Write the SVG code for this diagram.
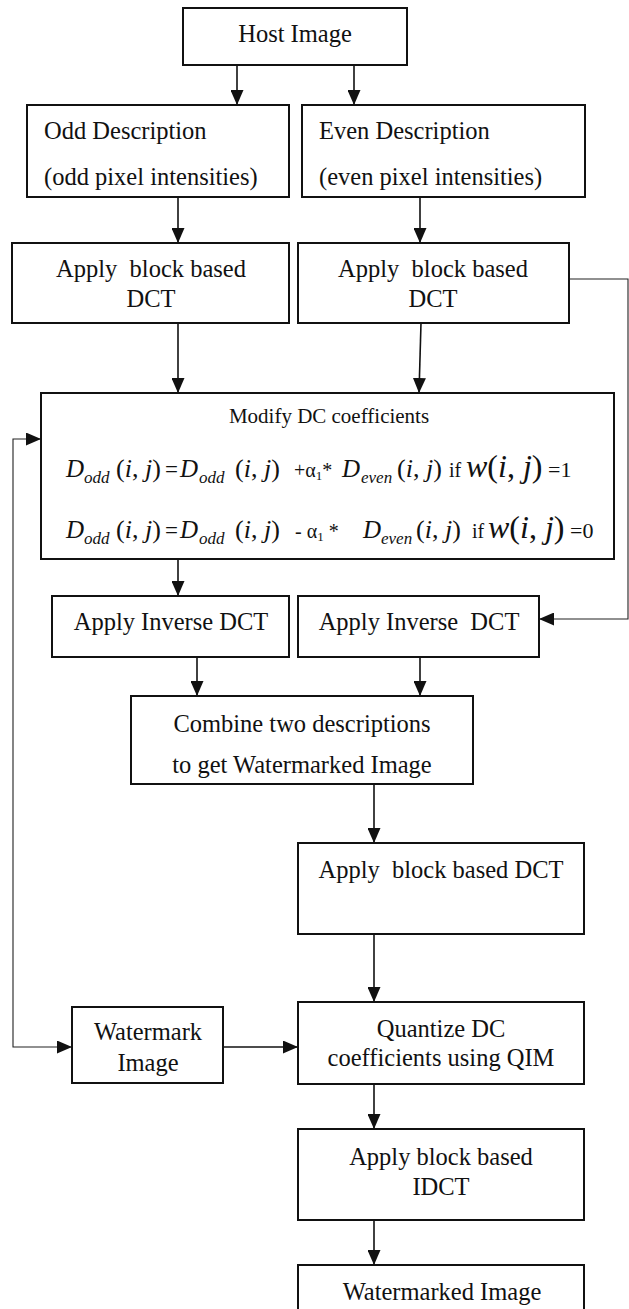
<svg xmlns="http://www.w3.org/2000/svg" width="629" height="1309" viewBox="0 0 629 1309">
<style>
text{font-family:"Liberation Serif","Times New Roman",serif}
.box{fill:#fff;stroke:#111;stroke-width:2}
.lbl{font-size:24.5px;fill:#111}
.c{text-anchor:middle}
.con{fill:none;stroke:#111;stroke-width:1.6}
.thin{fill:none;stroke:#222;stroke-width:1.1}
.m{fill:#111}
.it{font-style:italic}
.pre{white-space:pre}
</style>
<defs>
<marker id="ah" markerUnits="userSpaceOnUse" markerWidth="15" markerHeight="13" refX="15" refY="6.5" orient="auto-start-reverse">
<path d="M0,0 L15,6.5 L0,13 Z" fill="#111"/>
</marker>
</defs>
<g id="connectors">
<path class="con" d="M237,65 V105" marker-end="url(#ah)"/>
<path class="con" d="M354,65 V105" marker-end="url(#ah)"/>
<path class="con" d="M178,197 V243" marker-end="url(#ah)"/>
<path class="con" d="M420,197 V243" marker-end="url(#ah)"/>
<path class="con" d="M178,323 V393" marker-end="url(#ah)"/>
<path class="con" d="M421,323 L419,393" marker-end="url(#ah)"/>
<path class="con" d="M178,559 V596" marker-end="url(#ah)"/>
<path class="con" d="M197,657 V696" marker-end="url(#ah)"/>
<path class="con" d="M420,657 V696" marker-end="url(#ah)"/>
<path class="con" d="M374,784 V843" marker-end="url(#ah)"/>
<path class="con" d="M374,934 V1002" marker-end="url(#ah)"/>
<path class="con" d="M374,1084 V1129" marker-end="url(#ah)"/>
<path class="con" d="M374,1220 V1265" marker-end="url(#ah)"/>
<path class="con" d="M223,1047 H298" marker-end="url(#ah)"/>
<path class="thin" d="M569,279 H628 V619 H539" marker-end="url(#ah)"/>
<path class="thin" d="M41,439 H13 V1047 H72" marker-start="url(#ah)" marker-end="url(#ah)"/>
</g>
<g id="host"><rect class="box" x="183" y="8" width="224" height="57"/><text font-family="Liberation Serif" class="lbl c" x="295" y="42">Host Image</text></g>
<g id="odd"><rect class="box" x="27" y="105" width="262" height="92"/><text font-family="Liberation Serif" class="lbl" x="44" y="139">Odd Description</text><text font-family="Liberation Serif" class="lbl" x="44" y="185">(odd pixel intensities)</text></g>
<g id="even"><rect class="box" x="302" y="105" width="283" height="92"/><text font-family="Liberation Serif" class="lbl" x="319" y="139">Even Description</text><text font-family="Liberation Serif" class="lbl" x="319" y="185">(even pixel intensities)</text></g>
<g id="dctL"><rect class="box" x="12" y="243" width="277" height="80"/><text font-family="Liberation Serif" class="lbl c pre" x="151" y="277">Apply  block based</text><text font-family="Liberation Serif" class="lbl c" x="151" y="307">DCT</text></g>
<g id="dctR"><rect class="box" x="298" y="243" width="271" height="80"/><text font-family="Liberation Serif" class="lbl c pre" x="433" y="277">Apply  block based</text><text font-family="Liberation Serif" class="lbl c" x="433" y="307">DCT</text></g>
<g id="modify"><rect class="box" x="41" y="393" width="573" height="166"/>
<text font-family="Liberation Serif" class="m c" x="329" y="423" font-size="21">Modify DC coefficients</text>
<text font-family="Liberation Serif" class="m it" x="66" y="477" font-size="25">D</text>
<text font-family="Liberation Serif" class="m it" x="84" y="483" font-size="17">odd</text>
<text font-family="Liberation Serif" class="m" x="116" y="477" font-size="26">(<tspan class="it">i</tspan>, <tspan class="it">j</tspan>)</text>
<text font-family="Liberation Serif" class="m" x="165" y="477" font-size="23">=</text>
<text font-family="Liberation Serif" class="m it" x="180" y="477" font-size="25">D</text>
<text font-family="Liberation Serif" class="m it" x="199" y="483" font-size="17">odd</text>
<text font-family="Liberation Serif" class="m" x="235" y="477" font-size="26">(<tspan class="it">i</tspan>, <tspan class="it">j</tspan>)</text>
<text font-family="Liberation Serif" class="m" x="294" y="477" font-size="20">+α<tspan font-size="13" dy="3">1</tspan><tspan dy="-3">*</tspan></text>
<text font-family="Liberation Serif" class="m it" x="342" y="477" font-size="25">D</text>
<text font-family="Liberation Serif" class="m it" x="361" y="483" font-size="17">even</text>
<text font-family="Liberation Serif" class="m" x="397" y="477" font-size="26">(<tspan class="it">i</tspan>, <tspan class="it">j</tspan>)</text>
<text font-family="Liberation Serif" class="m" x="449" y="477" font-size="20">if</text>
<text font-family="Liberation Serif" class="m" x="466" y="477" font-size="32"><tspan class="it">w</tspan>(<tspan class="it">i</tspan>, <tspan class="it">j</tspan>)</text>
<text font-family="Liberation Serif" class="m" x="548" y="477" font-size="22">=1</text>
<text font-family="Liberation Serif" class="m it" x="66" y="538" font-size="25">D</text>
<text font-family="Liberation Serif" class="m it" x="84" y="544" font-size="17">odd</text>
<text font-family="Liberation Serif" class="m" x="116" y="538" font-size="26">(<tspan class="it">i</tspan>, <tspan class="it">j</tspan>)</text>
<text font-family="Liberation Serif" class="m" x="165" y="538" font-size="23">=</text>
<text font-family="Liberation Serif" class="m it" x="180" y="538" font-size="25">D</text>
<text font-family="Liberation Serif" class="m it" x="199" y="544" font-size="17">odd</text>
<text font-family="Liberation Serif" class="m" x="235" y="538" font-size="26">(<tspan class="it">i</tspan>, <tspan class="it">j</tspan>)</text>
<text font-family="Liberation Serif" class="m pre" x="295" y="538" font-size="20">- α<tspan font-size="13" dy="3">1</tspan><tspan dy="-3"> *</tspan></text>
<text font-family="Liberation Serif" class="m it" x="363" y="538" font-size="25">D</text>
<text font-family="Liberation Serif" class="m it" x="381" y="544" font-size="17">even</text>
<text font-family="Liberation Serif" class="m" x="416" y="538" font-size="26">(<tspan class="it">i</tspan>, <tspan class="it">j</tspan>)</text>
<text font-family="Liberation Serif" class="m" x="472" y="538" font-size="20">if</text>
<text font-family="Liberation Serif" class="m" x="488" y="538" font-size="32"><tspan class="it">w</tspan>(<tspan class="it">i</tspan>, <tspan class="it">j</tspan>)</text>
<text font-family="Liberation Serif" class="m" x="570" y="538" font-size="22">=0</text>
</g>
<g id="invL"><rect class="box" x="52" y="596" width="237" height="61"/><text font-family="Liberation Serif" class="lbl c" x="171" y="630">Apply Inverse DCT</text></g>
<g id="invR"><rect class="box" x="298" y="596" width="241" height="61"/><text font-family="Liberation Serif" class="lbl c pre" x="419" y="630">Apply Inverse  DCT</text></g>
<g id="combine"><rect class="box" x="131" y="696" width="342" height="88"/><text font-family="Liberation Serif" class="lbl c" x="302" y="732">Combine two descriptions</text><text font-family="Liberation Serif" class="lbl c" x="302" y="773">to get Watermarked Image</text></g>
<g id="dct2"><rect class="box" x="298" y="843" width="286" height="91"/><text font-family="Liberation Serif" class="lbl c pre" x="441" y="878">Apply  block based DCT</text></g>
<g id="quantize"><rect class="box" x="298" y="1002" width="286" height="82"/><text font-family="Liberation Serif" class="lbl c" x="441" y="1037">Quantize DC</text><text font-family="Liberation Serif" class="lbl c" x="441" y="1066">coefficients using QIM</text></g>
<g id="watermark"><rect class="box" x="72" y="1007" width="151" height="76"/><text font-family="Liberation Serif" class="lbl c" x="148" y="1040">Watermark</text><text font-family="Liberation Serif" class="lbl c" x="148" y="1071">Image</text></g>
<g id="idct"><rect class="box" x="298" y="1129" width="286" height="91"/><text font-family="Liberation Serif" class="lbl c" x="441" y="1165">Apply block based</text><text font-family="Liberation Serif" class="lbl c" x="441" y="1195">IDCT</text></g>
<g id="final"><rect class="box" x="298" y="1265" width="286" height="60"/><text font-family="Liberation Serif" class="lbl c" x="442" y="1300">Watermarked Image</text></g>
</svg>
